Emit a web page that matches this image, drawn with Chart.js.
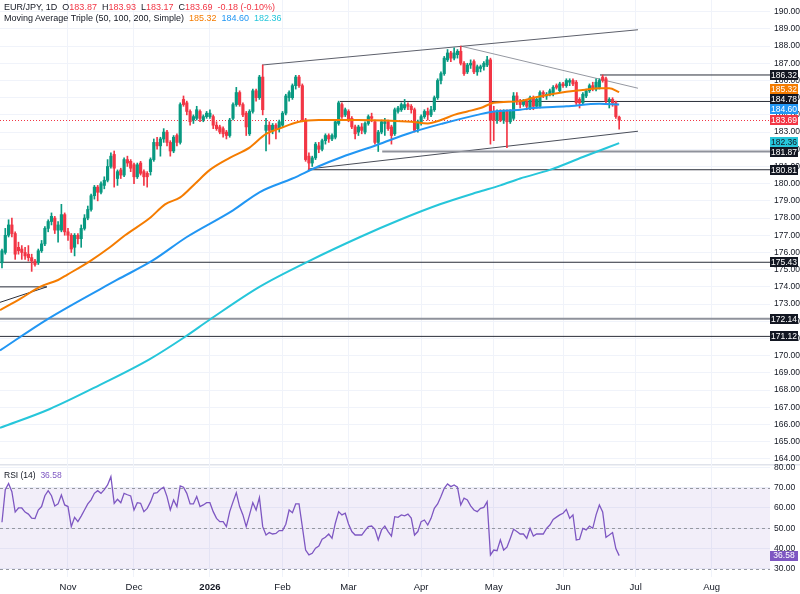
<!DOCTYPE html>
<html>
<head>
<meta charset="utf-8">
<script src="https://cdn.jsdelivr.net/npm/chart.js@4.4.1/dist/chart.umd.min.js"></script>
<style>
  body { margin: 0; background: #fff; font-family: "Liberation Sans", Arial, sans-serif; }
  #wrap { position: relative; width: 800px; height: 594px; overflow: hidden; }
  #priceCanvas { position: absolute; left: 0; top: 0; }
  #rsiCanvas { position: absolute; left: 0; top: 464px; }
  .legend { position: absolute; left: 4px; font-size: 9px; line-height: 11px; color: #131722; white-space: pre; }
  .red { color: #f23645; }
  .orange { color: #f57c00; }
  .blue { color: #2196f3; }
  .cyan { color: #26c6da; }
  .purple { color: #7e57c2; }
</style>
</head>
<body>
<div id="wrap">
  <canvas id="priceCanvas" width="800" height="464"></canvas>
  <canvas id="rsiCanvas" width="800" height="130"></canvas>
  <div class="legend" style="top:2px">EUR/JPY, 1D  O<span class="red">183.87</span>  H<span class="red">183.93</span>  L<span class="red">183.17</span>  C<span class="red">183.69</span>  <span class="red">-0.18 (-0.10%)</span></div>
  <div class="legend" style="top:13px">Moving Average Triple (50, 100, 200, Simple)  <span class="orange">185.32</span>  <span class="blue">184.60</span>  <span class="cyan">182.36</span></div>
  <div class="legend" style="top:470px;font-size:8.5px">RSI (14)  <span class="purple">36.58</span></div>
</div>
<script>
// Daily bars, one per trading day, starting Mon 6 Oct 2025 (index 0)
const opens = [
  175.4,176.0,177.0,177.6,177.1,176.3,176.2,176.0,175.9,175.7,
  175.5,175.4,176.1,176.5,177.4,177.8,178.0,177.3,177.3,178.2,
  177.2,177.0,176.3,177.0,176.8,177.4,178.0,178.5,179.3,179.8,
  179.5,179.9,180.2,181.0,181.7,180.3,180.8,180.5,181.4,181.3,
  181.1,180.4,181.2,180.7,180.6,180.7,181.4,182.4,182.2,182.6,
  183.0,182.4,181.9,182.8,182.4,184.9,184.7,184.2,183.7,183.8,
  184.2,183.7,183.9,183.9,183.9,183.4,183.3,183.2,183.0,182.8,
  183.8,184.6,185.3,184.6,184.1,182.9,184.2,185.4,185.0,186.2,
  183.1,183.4,183.1,183.4,183.2,183.4,184.1,185.0,185.0,185.7,
  186.2,185.7,183.7,181.6,181.2,181.5,182.2,182.0,182.5,182.8,
  182.6,182.7,183.5,184.6,184.0,184.2,183.8,183.3,183.0,183.3,
  183.0,183.5,183.9,183.6,182.4,183.0,183.5,183.6,183.3,182.9,
  184.2,184.3,184.4,184.6,184.5,184.3,183.2,183.6,183.9,184.2,
  184.0,184.3,185.0,186.0,186.4,187.2,187.6,187.3,187.5,187.7,
  187.0,186.5,186.9,187.1,186.5,186.7,186.8,186.9,187.2,184.2,
  183.7,184.2,183.7,184.2,183.6,183.8,185.1,184.8,184.6,184.8,
  184.4,185.0,184.5,184.5,185.3,185.1,185.2,185.3,185.7,185.4,
  185.8,185.7,185.9,186.0,185.9,184.9,184.7,185.1,185.4,185.7,
  185.5,185.6,186.2,186.1,184.8,184.9,184.7,183.87
];
const highs = [
  176.2,177.4,177.9,178.0,177.2,176.6,176.4,176.3,176.4,175.9,
  175.6,176.2,176.7,177.5,177.9,178.3,178.1,177.8,178.8,178.3,
  177.4,177.1,177.1,177.1,177.6,178.2,178.7,179.4,179.9,179.9,
  180.1,180.4,181.4,181.8,181.9,180.8,180.9,181.5,181.6,181.4,
  181.2,181.2,181.3,180.8,180.7,181.5,182.6,182.7,182.7,183.2,
  183.1,182.5,182.8,182.9,184.7,185.1,184.8,184.3,184.0,184.5,
  184.3,184.0,184.2,184.3,184.0,183.6,183.4,183.3,183.1,183.8,
  184.7,185.6,185.4,184.7,184.2,184.3,185.5,185.5,186.3,186.9,
  183.8,183.6,183.5,183.5,183.7,184.2,185.2,185.4,185.8,186.3,
  186.3,185.8,183.8,181.8,181.6,182.4,182.4,182.6,182.9,182.9,
  182.9,183.7,184.8,184.7,184.4,184.3,183.9,183.4,183.4,183.5,
  183.6,184.0,184.1,183.7,183.1,183.7,183.8,183.7,183.4,184.4,
  184.5,184.7,184.9,184.7,184.6,184.4,183.7,184.0,184.3,184.4,
  184.5,185.1,186.1,186.5,187.4,187.8,187.7,187.9,187.8,188.0,
  187.1,187.0,187.2,187.2,186.9,186.9,187.1,187.4,187.3,184.5,
  184.3,184.3,184.3,184.3,184.3,185.3,185.3,184.9,184.9,184.9,
  185.1,185.1,185.0,185.4,185.4,185.3,185.5,185.7,185.8,185.9,
  185.9,186.1,186.1,186.1,186.0,185.0,185.3,185.5,185.8,185.9,
  186.1,186.1,186.32,186.2,185.0,185.0,184.8,183.93
];
const lows = [
  175.1,175.9,176.9,176.9,175.6,175.9,175.6,175.6,175.5,174.9,
  175.2,175.3,176.0,176.4,177.2,177.6,177.1,176.6,177.2,177.0,
  176.7,176.0,175.8,176.5,176.3,177.3,177.9,178.4,179.1,179.0,
  179.4,179.7,180.1,180.9,179.8,179.9,180.3,180.4,181.0,180.7,
  180.0,180.3,180.5,179.9,179.8,180.5,181.3,182.0,181.6,182.4,
  182.2,181.6,181.8,182.2,182.3,184.5,184.0,183.4,183.5,183.7,
  183.6,183.6,183.8,183.8,183.2,183.1,182.9,182.7,182.6,182.7,
  183.7,184.5,184.5,183.9,182.8,182.8,184.1,184.8,184.9,184.0,
  181.9,182.3,182.9,182.6,183.0,183.3,184.0,184.8,184.9,185.5,
  185.6,183.6,181.3,180.81,181.0,181.4,181.8,181.9,182.3,182.4,
  182.5,182.6,183.4,183.8,183.9,183.6,183.2,182.6,182.8,182.9,
  182.9,183.4,183.6,182.3,181.87,182.9,182.8,183.1,182.3,182.8,
  184.1,184.2,184.3,184.3,184.1,183.0,183.0,183.4,183.8,183.7,
  183.9,184.2,184.9,185.8,186.3,187.1,187.1,187.2,187.3,186.9,
  186.3,186.4,186.7,186.4,186.3,186.5,186.6,186.8,182.3,182.5,
  183.5,183.6,183.5,182.1,183.5,183.7,184.6,184.4,184.5,184.3,
  184.3,184.3,184.4,184.4,185.0,184.9,185.1,185.1,185.5,185.3,
  185.6,185.6,185.7,185.7,184.6,184.4,184.6,185.0,185.3,185.4,
  185.4,185.5,185.9,184.7,184.4,184.5,183.8,183.17
];
const closes = [
  176.1,177.0,177.6,177.1,175.9,176.1,176.0,175.8,175.7,175.5,
  175.3,176.1,176.5,177.4,177.8,178.1,177.3,177.6,178.2,177.2,
  177.0,176.2,177.0,176.8,177.4,178.0,178.5,179.3,179.8,179.5,
  180.0,180.2,181.0,181.6,180.9,180.7,180.5,181.4,181.2,180.9,
  180.4,181.1,180.6,180.4,180.4,181.4,182.4,182.2,182.6,183.0,
  182.4,181.9,182.7,182.4,184.6,184.6,184.2,183.6,183.9,184.3,
  183.8,183.9,184.1,184.1,183.4,183.2,183.0,182.9,182.8,183.7,
  184.6,185.3,184.6,184.0,183.3,184.2,185.4,185.0,186.2,184.3,
  183.4,183.1,183.4,183.2,183.6,184.1,185.1,185.3,185.7,186.2,
  185.7,183.7,181.4,181.2,181.5,182.3,182.0,182.5,182.8,182.6,
  182.8,183.6,184.7,183.9,184.3,183.7,183.3,182.9,183.3,183.1,
  183.5,183.9,183.8,182.4,183.0,183.6,183.6,183.2,182.8,184.3,
  184.4,184.6,184.6,184.5,184.3,183.1,183.6,183.9,184.2,184.0,
  184.3,185.0,186.0,186.4,187.3,187.6,187.3,187.6,187.7,187.0,
  186.4,186.9,187.0,186.5,186.8,186.8,187.0,187.2,183.7,183.7,
  184.2,183.7,184.2,183.6,184.2,185.1,184.8,184.6,184.8,184.5,
  185.0,184.5,184.9,185.3,185.2,185.2,185.4,185.6,185.6,185.8,
  185.7,186.0,186.0,185.8,184.7,184.7,185.2,185.4,185.7,185.5,
  185.9,186.0,186.0,184.8,184.9,184.7,183.9,183.69
];
const rsi14 = [
  53,69,72,68,58,60,60,58,57,55,
  54.8,59,60.7,66,68.5,66,61,62,66.4,61.5,
  60.7,50.8,55.4,53.3,56,59,62,64,67.2,68.5,
  67.2,69,71.3,75.4,62.3,64.3,62.6,67.2,66.5,65.9,
  59,62.6,62.3,58.2,59.8,63,67.2,67.5,69.2,70.2,
  65.6,59,63.9,60.7,70.8,70.2,67.2,62,62,65.6,
  60.7,61.5,62.6,62.6,58.2,54.9,53.3,53.3,50.8,58.2,
  63,67.5,60.7,56.6,50.8,56.6,62.6,59,65.1,50.8,
  46.7,47.9,47.2,47.5,48.9,48.9,52,59,57.7,62,
  62,50.8,39.3,36.9,37.7,40.2,41.3,44.6,45.6,47.2,
  45.1,52.5,58.2,56.6,57.4,52.1,48.4,46.7,46.7,46.7,
  48.9,50.8,51.1,49.5,44.3,49.2,51.1,48.4,46.2,55.7,
  55.4,56.6,56.1,57,55,46.7,48.4,53.3,54.1,51.6,
  54.9,59.8,62,65.6,69.7,71.8,70.5,71.3,70.2,61.5,
  64.8,63.9,61,59,58.2,59.8,60.3,63.1,36.9,39.3,
  39,44.3,39.3,40.7,45,49.5,48.4,47.2,47.2,45.1,
  50,46.2,47.2,47.2,47.2,50,51.6,54.4,55.5,56.6,
  57.4,59.3,54.9,56.6,44.3,44.6,50,49.2,51.1,50,
  56.6,61.5,58,45.6,46.7,47.9,40,36.58
];

// moving averages: [bar index, value]
const sma50 = [[-0.6,172.65],[5.5,173.3],[11.5,174.0],[17,174.4],[19.7,174.7],[26.7,175.5],[32.7,176.3],
  [37.3,177.0],[44.8,178.0],[49.4,178.8],[54,179.2],[58.5,180.0],[63,180.8],[69,181.5],[75,182.1],
  [80,182.9],[84,183.2],[90,183.6],[96,183.7],[108,183.7],[124,183.6],[129,183.5],[133,183.7],
  [137,184.0],[141,184.2],[145,184.4],[149,184.7],[157,184.8],[161,185.0],[171,185.35],[176,185.45],
  [181,185.55],[184,185.55],[187,185.32]];
const sma100 = [[-0.6,170.3],[13.6,172.1],[34.8,174.4],[45.8,175.55],[56,176.9],[70,178.45],[78,179.5],
  [88,180.3],[95.8,181.0],[103,181.55],[113.6,182.25],[123.6,182.95],[133.6,183.5],[144,184.0],
  [149,184.2],[157,184.3],[161,184.4],[171,184.5],[181,184.65],[187,184.6]];
const sma200 = [[-0.6,165.8],[14.5,166.9],[29.7,168.3],[44.8,169.8],[55.5,171.1],[63,172.1],[78,174.0],
  [93,175.5],[108.5,176.9],[120.6,177.9],[132.7,178.8],[144,179.5],[151,179.9],[157,180.3],[166,180.8],
  [176,181.55],[187,182.36]];

// drawings: horizontal levels (value, first bar) and trend lines
const levelValues = [186.32, 184.78, 181.87, 180.81, 175.43, 172.14, 171.12];
const levelStarts = [181.2, 102.4, 115.2, 92.7, -0.6, -0.6, -0.6];
const upperChannel = [[78.8,186.9],[192.7,188.95]];
const fallingLine = [[139,188.0],[192.7,185.55]];
const lowerChannel = [[92.7,180.85],[192.7,183.05]];
const oldBoxTop = [[-0.6,174.0],[13.6,174.0]];
const oldBoxDiag = [[-0.6,173.1],[13.6,174.0]];

const monthTicks = [20, 40, 63, 85, 105, 127, 149, 170, 192, 215];
const monthLabels = ['Nov', 'Dec', '2026', 'Feb', 'Mar', 'Apr', 'May', 'Jun', 'Jul', 'Aug'];

const X_MIN = -0.6, X_MAX = 232.7;
const UP = '#089981', DOWN = '#f23645';
const FONT = 'Liberation Sans';

const idx = closes.map((c, i) => i);
const isUp = i => closes[i] >= opens[i];
const pts = arr => arr.map(p => ({ x: p[0], y: p[1] }));

function drawTag(ctx, x, y, text, bg, fg) {
  ctx.fillStyle = bg;
  ctx.fillRect(x, Math.round(y - 5), 28, 10);
  ctx.fillStyle = fg;
  ctx.font = '8.5px "' + FONT + '"';
  ctx.textAlign = 'center';
  ctx.textBaseline = 'middle';
  ctx.fillText(text, x + 14, y + 0.5);
}

// spread overlapping tags around their cluster centre
function placeTags(tags, h) {
  tags.sort((a, b) => a.y - b.y);
  let groups = tags.map(t => ({ items: [t], c: t.y }));
  let merged = true;
  while (merged) {
    merged = false;
    for (let g = 0; g < groups.length - 1; g++) {
      const a = groups[g], b = groups[g + 1];
      const aEnd = a.c + a.items.length * h / 2;
      const bStart = b.c - b.items.length * h / 2;
      if (aEnd > bStart) {
        const items = a.items.concat(b.items);
        const c = items.reduce((s, t) => s + t.y, 0) / items.length;
        groups.splice(g, 2, { items, c });
        merged = true;
        break;
      }
    }
  }
  groups.forEach(g => {
    const top = g.c - g.items.length * h / 2;
    g.items.forEach((t, k) => { t.py = top + h / 2 + k * h; });
  });
}

const priceOverlay = {
  id: 'priceOverlay',
  beforeDatasetsDraw(chart) {
    const { ctx, chartArea, scales } = chart;
    const y = scales.y.getPixelForValue(closes[closes.length - 1]);
    ctx.save();
    ctx.strokeStyle = DOWN;
    ctx.lineWidth = 1;
    ctx.setLineDash([1, 2]);
    ctx.beginPath();
    ctx.moveTo(chartArea.left, Math.round(y) + 0.5);
    ctx.lineTo(chartArea.right, Math.round(y) + 0.5);
    ctx.stroke();
    ctx.restore();
  },
  afterDraw(chart) {
    const { ctx, chartArea, scales } = chart;
    const tags = [];
    levelValues.forEach(v => tags.push({ v, bg: '#131722', fg: '#ffffff' }));
    tags.push({ v: sma50[sma50.length - 1][1], bg: '#f57c00', fg: '#ffffff' });
    tags.push({ v: sma100[sma100.length - 1][1], bg: '#2196f3', fg: '#ffffff' });
    tags.push({ v: sma200[sma200.length - 1][1], bg: '#26c6da', fg: '#131722' });
    tags.push({ v: closes[closes.length - 1], bg: DOWN, fg: '#ffffff' });
    tags.forEach(t => { t.y = scales.y.getPixelForValue(t.v); });
    placeTags(tags, 10);
    ctx.save();
    tags.forEach(t => drawTag(ctx, chartArea.right, t.py, t.v.toFixed(2), t.bg, t.fg));
    ctx.restore();
  }
};

const lineSet = (data, color, width, order) => ({
  type: 'line', data, borderColor: color, borderWidth: width, pointRadius: 0,
  fill: false, order, tension: 0
});

const datasets = [];
levelValues.forEach((v, k) => {
  const wide = v === 181.87 || v === 172.14;
  datasets.push(lineSet([{ x: levelStarts[k], y: v }, { x: X_MAX, y: v }],
    wide ? '#8f929b' : '#2a2e39', wide ? 2 : 1, 9));
});
datasets.push(lineSet(pts(upperChannel), '#5d606b', 1, 9));
datasets.push(lineSet(pts(fallingLine), '#9598a1', 1, 9));
datasets.push(lineSet(pts(lowerChannel), '#4a4e59', 1, 9));
datasets.push(lineSet(pts(oldBoxTop), '#2a2e39', 1, 9));
datasets.push(lineSet(pts(oldBoxDiag), '#2a2e39', 1, 9));

datasets.push({
  type: 'bar', label: 'wicks', order: 6, grouped: false, barThickness: 1,
  data: idx.map(i => ({ x: i, y: [lows[i], highs[i]] })),
  backgroundColor: c => isUp(c.dataIndex) ? UP : DOWN
});
datasets.push({
  type: 'bar', label: 'bodies', order: 5, grouped: false, barThickness: 2.5, minBarLength: 1,
  data: idx.map(i => ({ x: i, y: [opens[i], closes[i]] })),
  backgroundColor: c => isUp(c.dataIndex) ? UP : DOWN
});

const maLine = (arr, color) => ({
  type: 'line', data: pts(arr), borderColor: color, borderWidth: 2, pointRadius: 0,
  fill: false, order: 1, cubicInterpolationMode: 'monotone'
});
datasets.push(maLine(sma200, '#26c6da'));
datasets.push(maLine(sma100, '#2196f3'));
datasets.push(maLine(sma50, '#f57c00'));

const monthGrid = s => { s.ticks = monthTicks.map(v => ({ value: v })); };

new Chart(document.getElementById('priceCanvas'), {
  type: 'bar',
  data: { datasets },
  options: {
    responsive: false, animation: false, devicePixelRatio: 1,
    layout: { padding: 0 },
    plugins: { legend: { display: false }, tooltip: { enabled: false } },
    scales: {
      x: {
        type: 'linear', min: X_MIN, max: X_MAX, offset: false,
        grid: { offset: false, color: '#f0f3fa', drawTicks: false },
        border: { display: false },
        ticks: { display: false },
        afterBuildTicks: monthGrid,
        afterFit: s => { s.height = 0; s.paddingLeft = 0; s.paddingRight = 0; }
      },
      y: {
        position: 'right', min: 163.70, max: 190.68,
        grid: { color: '#f0f3fa', drawTicks: false },
        border: { display: false },
        ticks: {
          stepSize: 1, includeBounds: false, padding: 4, color: '#131722',
          font: { family: FONT, size: 8.5 }, callback: v => v.toFixed(2)
        },
        afterFit: s => { s.width = 30; s.paddingTop = 0; s.paddingBottom = 0; }
      }
    }
  },
  plugins: [priceOverlay]
});

const rsiOverlay = {
  id: 'rsiOverlay',
  beforeDatasetsDraw(chart) {
    const { ctx, chartArea, scales } = chart;
    const y70 = scales.y.getPixelForValue(70), y30 = scales.y.getPixelForValue(30);
    ctx.save();
    ctx.fillStyle = 'rgba(126, 87, 194, 0.1)';
    ctx.fillRect(chartArea.left, y70, chartArea.right - chartArea.left, y30 - y70);
    ctx.strokeStyle = '#9598a1';
    ctx.lineWidth = 1;
    ctx.setLineDash([3, 3]);
    [70, 50, 30].forEach(v => {
      const y = Math.round(scales.y.getPixelForValue(v)) + 0.5;
      ctx.beginPath();
      ctx.moveTo(chartArea.left, y);
      ctx.lineTo(chartArea.right, y);
      ctx.stroke();
    });
    ctx.restore();
  },
  beforeDraw(chart) {
    const ctx = chart.ctx;
    ctx.save();
    ctx.fillStyle = '#e0e3eb';
    ctx.fillRect(0, 0, chart.width, 1.5);
    ctx.restore();
  },
  afterDraw(chart) {
    const { ctx, chartArea, scales } = chart;
    const last = rsi14[rsi14.length - 1];
    ctx.save();
    drawTag(ctx, chartArea.right, scales.y.getPixelForValue(last), last.toFixed(2), '#7e57c2', '#ffffff');
    ctx.restore();
  }
};

new Chart(document.getElementById('rsiCanvas'), {
  type: 'line',
  data: {
    datasets: [{
      data: idx.map(i => ({ x: i, y: rsi14[i] })),
      borderColor: '#7e57c2', borderWidth: 1.3, pointRadius: 0, fill: false, tension: 0
    }]
  },
  options: {
    responsive: false, animation: false, devicePixelRatio: 1,
    layout: { padding: 0 },
    plugins: { legend: { display: false }, tooltip: { enabled: false } },
    scales: {
      x: {
        type: 'linear', min: X_MIN, max: X_MAX, offset: false,
        grid: { offset: false, color: '#f0f3fa', drawTicks: false },
        border: { display: false },
        afterBuildTicks: monthGrid,
        ticks: {
          padding: 5, color: '#131722', maxRotation: 0, autoSkip: false,
          font: c => ({ family: FONT, size: 9.5, weight: c.tick && c.tick.value === 63 ? 'bold' : 'normal' }),
          callback: v => monthLabels[monthTicks.indexOf(v)]
        },
        afterFit: s => { s.height = 17; s.paddingLeft = 0; s.paddingRight = 0; }
      },
      y: {
        position: 'right', min: 26.06, max: 81.62,
        grid: { color: '#f0f3fa', drawTicks: false },
        border: { display: false },
        ticks: {
          stepSize: 10, includeBounds: false, padding: 4, color: '#131722',
          font: { family: FONT, size: 8.5 }, callback: v => v.toFixed(2)
        },
        afterFit: s => { s.width = 30; s.paddingTop = 0; s.paddingBottom = 0; }
      }
    }
  },
  plugins: [rsiOverlay]
});
</script>
</body>
</html>
